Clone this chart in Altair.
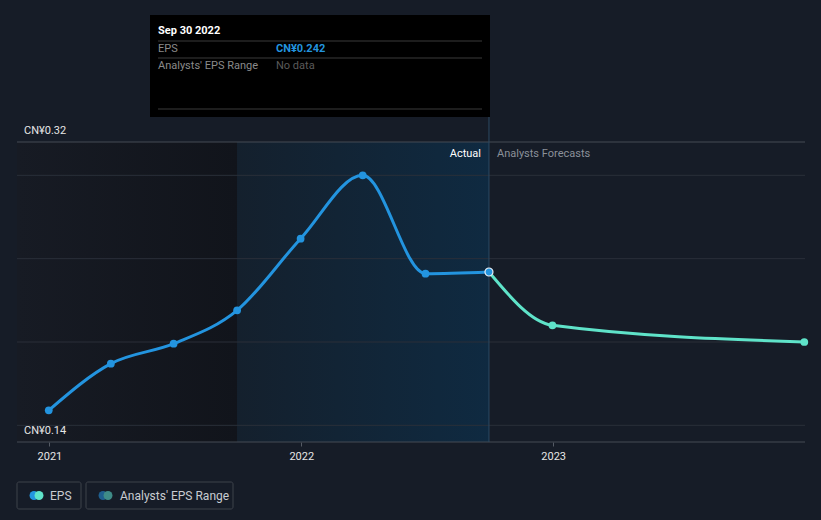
import altair as alt
import pandas as pd

# ---- data ----
actual_dates = ["2020-12-31", "2021-03-31", "2021-06-30", "2021-09-30",
                "2021-12-31", "2022-03-31", "2022-06-30", "2022-09-30"]
actual_eps = [0.159, 0.187, 0.199, 0.219, 0.262, 0.300, 0.241, 0.242]
forecast_dates = ["2022-09-30", "2022-12-31", "2023-12-31"]
forecast_eps = [0.242, 0.210, 0.200]
grid_values = [0.15, 0.20, 0.25, 0.30]
edge_values = [0.14, 0.32]
edge_labels = ["CN¥0.14", "CN¥0.32"]
year_ticks = [2021, 2022, 2023]
past_start, past_end = "2020-11-15", "2021-09-30"
hl_start, hl_end = "2021-09-30", "2022-09-30"
divider_date = "2022-09-30"

FONT = "Roboto"
BG = "#161c27"
W, H = 788, 300

xs = alt.Scale(type="utc",
               domain=[alt.DateTime(year=2020, month=11, date=15, utc=True),
                       alt.DateTime(year=2024, month=1, date=1, utc=True)])
ys = alt.Scale(domain=[0.14, 0.32], nice=False, zero=False)
XA = alt.Axis(title=None,
              values=[alt.DateTime(year=y, month=1, date=1, utc=True) for y in year_ticks],
              labelExpr="utcFormat(datum.value, '%Y')",
              grid=False, domain=False, tickSize=4, tickColor="#555b65",
              labelColor="#e6e6e6", labelFont=FONT, labelFontSize=11,
              labelPadding=4)


def X(field):
    return alt.X(field, scale=xs, axis=XA)


df_act = pd.DataFrame({"date": actual_dates, "eps": actual_eps})
df_fc = pd.DataFrame({"date": forecast_dates, "eps": forecast_eps})
df_grid = pd.DataFrame({"v": grid_values})
df_edge = pd.DataFrame({"v": edge_values, "label": edge_labels})

# shaded regions
past = alt.Chart(pd.DataFrame({"s": [past_start], "e": [past_end]})).mark_rect(
    fill=alt.LinearGradient(gradient="linear",
                            stops=[alt.GradientStop(color="#171b24", offset=0),
                                   alt.GradientStop(color="#11141b", offset=1)],
                            x1=0, x2=1, y1=0, y2=0)
).encode(x=X("s:T"), x2="e:T", y=alt.value(0), y2=alt.value(H))

hl = alt.Chart(pd.DataFrame({"s": [hl_start], "e": [hl_end]})).mark_rect(
    fill=alt.LinearGradient(gradient="linear",
                            stops=[alt.GradientStop(color="#14202d", offset=0),
                                   alt.GradientStop(color="#0f2a41", offset=1)],
                            x1=0, x2=1, y1=0, y2=0)
).encode(x=X("s:T"), x2="e:T", y=alt.value(0), y2=alt.value(H))

grid = alt.Chart(df_grid).mark_rule(color="#2a2f39", strokeWidth=1).encode(
    y=alt.Y("v:Q", scale=ys, axis=None), x=alt.value(0), x2=alt.value(W))

edges = alt.Chart(df_edge).mark_rule(color="#444a54", strokeWidth=1).encode(
    y=alt.Y("v:Q", scale=ys, axis=None), x=alt.value(0), x2=alt.value(W))

edge_text = alt.Chart(df_edge).mark_text(
    align="left", baseline="bottom", dy=-6, font=FONT, fontSize=11, color="#e6e6e6"
).encode(y=alt.Y("v:Q", scale=ys, axis=None), x=alt.value(7), text="label:N")

divider = alt.Chart(pd.DataFrame({"d": [divider_date]})).mark_rule(
    color="#2c4a63", strokeWidth=1
).encode(x=X("d:T"), y=alt.value(-25), y2=alt.value(H))

actual_lbl = alt.Chart(pd.DataFrame({"d": [divider_date], "t": ["Actual"]})).mark_text(
    align="right", baseline="middle", dx=-8, font=FONT, fontSize=11, color="#ffffff"
).encode(x=X("d:T"), y=alt.value(12), text="t:N")

fc_lbl = alt.Chart(pd.DataFrame({"d": [divider_date], "t": ["Analysts Forecasts"]})).mark_text(
    align="left", baseline="middle", dx=8, font=FONT, fontSize=11, color="#8b9099"
).encode(x=X("d:T"), y=alt.value(12), text="t:N")

line_act = alt.Chart(df_act).mark_line(
    interpolate="monotone", color="#2394df", strokeWidth=3
).encode(x=X("date:T"), y=alt.Y("eps:Q", scale=ys, axis=None))

line_fc = alt.Chart(df_fc).mark_line(
    interpolate="monotone", color="#5fe3c9", strokeWidth=3
).encode(x=X("date:T"), y=alt.Y("eps:Q", scale=ys, axis=None))

pts_act = alt.Chart(df_act.iloc[:-1]).mark_circle(
    color="#2394df", size=60, opacity=1
).encode(x=X("date:T"), y=alt.Y("eps:Q", scale=ys, axis=None))

pts_fc = alt.Chart(df_fc.iloc[1:]).mark_circle(
    color="#5fe3c9", size=60, opacity=1
).encode(x=X("date:T"), y=alt.Y("eps:Q", scale=ys, axis=None))

pt_sel = alt.Chart(df_act.iloc[-1:]).mark_point(
    filled=True, fill="#2394df", stroke="#e8eef5", strokeWidth=1.2, size=64, opacity=1, shape="circle"
).encode(x=X("date:T"), y=alt.Y("eps:Q", scale=ys, axis=None))

# tooltip box (annotation, pixel positions)
tip_box = alt.Chart(pd.DataFrame({"a": [0]})).mark_rect(color="#000000").encode(
    x=alt.value(133), x2=alt.value(473), y=alt.value(-127), y2=alt.value(-25))

tip_lines = alt.Chart(pd.DataFrame({"y": [-101, -84, -33]})).mark_rule(
    color="#3a3a3a", strokeWidth=1
).encode(x=alt.value(141), x2=alt.value(465),
         y=alt.Y("y:Q", scale=alt.Scale(domain=[0, H], range=[0, H]), axis=None))

tip_title = alt.Chart(pd.DataFrame({"t": ["Sep 30 2022"]})).mark_text(
    align="left", baseline="middle", font=FONT, fontSize=11, fontWeight="bold", color="#ffffff"
).encode(x=alt.value(141), y=alt.value(-111), text="t:N")

tip_k1 = alt.Chart(pd.DataFrame({"t": ["EPS"]})).mark_text(
    align="left", baseline="middle", font=FONT, fontSize=11, color="#8a8a8a"
).encode(x=alt.value(141), y=alt.value(-93), text="t:N")
tip_v1 = alt.Chart(pd.DataFrame({"t": ["CN¥0.242"]})).mark_text(
    align="left", baseline="middle", font=FONT, fontSize=11, fontWeight="bold", color="#2394df"
).encode(x=alt.value(259), y=alt.value(-93), text="t:N")
tip_k2 = alt.Chart(pd.DataFrame({"t": ["Analysts' EPS Range"]})).mark_text(
    align="left", baseline="middle", font=FONT, fontSize=11, color="#8a8a8a"
).encode(x=alt.value(141), y=alt.value(-76), text="t:N")
tip_v2 = alt.Chart(pd.DataFrame({"t": ["No data"]})).mark_text(
    align="left", baseline="middle", font=FONT, fontSize=11, color="#5a5a5a"
).encode(x=alt.value(259), y=alt.value(-76), text="t:N")

# legend (annotation)
leg_box1 = alt.Chart(pd.DataFrame({"a": [0]})).mark_rect(
    fill=BG, stroke="#3d424b", strokeWidth=1, cornerRadius=2
).encode(x=alt.value(0), x2=alt.value(64), y=alt.value(340), y2=alt.value(367))
leg_box2 = alt.Chart(pd.DataFrame({"a": [0]})).mark_rect(
    fill=BG, stroke="#3d424b", strokeWidth=1, cornerRadius=2
).encode(x=alt.value(69), x2=alt.value(216), y=alt.value(340), y2=alt.value(367))


def dot(xp, col):
    return alt.Chart(pd.DataFrame({"a": [0]})).mark_circle(color=col, size=80, opacity=1).encode(
        x=alt.value(xp), y=alt.value(353.5))


leg_dots = [dot(17, "#2394df"), dot(22, "#5fe3c9"), dot(86, "#1f5f8f"), dot(91, "#3f8c88")]
leg_t1 = alt.Chart(pd.DataFrame({"t": ["EPS"]})).mark_text(
    align="left", baseline="middle", font=FONT, fontSize=12, color="#c9ccd1"
).encode(x=alt.value(33), y=alt.value(353.5), text="t:N")
leg_t2 = alt.Chart(pd.DataFrame({"t": ["Analysts' EPS Range"]})).mark_text(
    align="left", baseline="middle", font=FONT, fontSize=12, color="#c9ccd1"
).encode(x=alt.value(103), y=alt.value(353.5), text="t:N")

chart = alt.layer(
    past, hl, grid, edges, divider, edge_text, actual_lbl, fc_lbl,
    line_act, line_fc, pts_act, pts_fc, pt_sel,
    tip_box, tip_lines, tip_title, tip_k1, tip_v1, tip_k2, tip_v2,
    leg_box1, leg_box2, *leg_dots, leg_t1, leg_t2
).resolve_scale(y="independent").properties(
    width=W, height=H,
    autosize=alt.AutoSizeParams(type="none"),
    padding={"left": 17, "top": 142, "right": 16, "bottom": 78},
    background=BG
).configure_view(stroke=None)

chart.save("out.html", embed_options={"renderer": "svg", "actions": False})
